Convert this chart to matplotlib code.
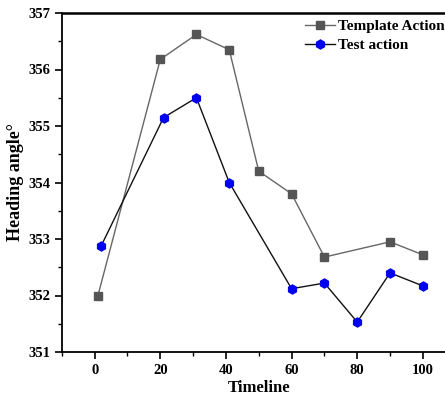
import matplotlib.pyplot as plt
from matplotlib.ticker import MultipleLocator

plt.rcParams['font.family'] = ['Liberation Serif', 'DejaVu Serif']
plt.rcParams['font.weight'] = 'bold'

template_x = [1, 20, 31, 41, 50, 60, 70, 90, 100]
template_y = [352.0, 356.18, 356.62, 356.35, 354.2, 353.8, 352.68, 352.95, 352.72]
test_x = [2, 21, 31, 41, 60, 70, 80, 90, 100]
test_y = [352.88, 355.15, 355.5, 354.0, 352.12, 352.22, 351.53, 352.4, 352.17]

fig = plt.figure(figsize=(4.45, 4.0), dpi=100)
ax = fig.add_axes([0.139, 0.12, 0.885, 0.8475])

ax.plot(template_x, template_y, color='#666666', lw=1.0, marker='s', ms=6,
        mfc='#555555', mec='#555555', label='Template Action')
ax.plot(test_x, test_y, color='#111111', lw=1.0, marker='h', ms=6.5,
        mfc='#0000ee', mec='#0000ee', label='Test action')

ax.set_xlim(-10, 110)
ax.set_ylim(351, 357)
ax.xaxis.set_major_locator(MultipleLocator(20))
ax.xaxis.set_minor_locator(MultipleLocator(10))
ax.yaxis.set_major_locator(MultipleLocator(1))
ax.yaxis.set_minor_locator(MultipleLocator(0.5))
ax.tick_params(which='major', direction='out', length=5, width=1.2, labelsize=10.5)
ax.tick_params(which='minor', direction='out', length=3, width=1.0)
for s in ['left', 'bottom']:
    ax.spines[s].set_linewidth(1.3)
ax.spines['top'].set_linewidth(1.8)
ax.spines['right'].set_visible(False)

ax.set_xlabel('Timeline', fontsize=12, fontweight='bold', labelpad=2)
ax.set_ylabel('Heading angle°', fontsize=13, fontweight='bold', labelpad=3)

ax.legend(loc='upper left', bbox_to_anchor=(0.685, 0.952), bbox_transform=fig.transFigure,
          frameon=False, fontsize=11, handlelength=2.0, handletextpad=0.15,
          labelspacing=0.35, borderaxespad=0.0, borderpad=0.0)

fig.savefig('out.png', dpi=100)
